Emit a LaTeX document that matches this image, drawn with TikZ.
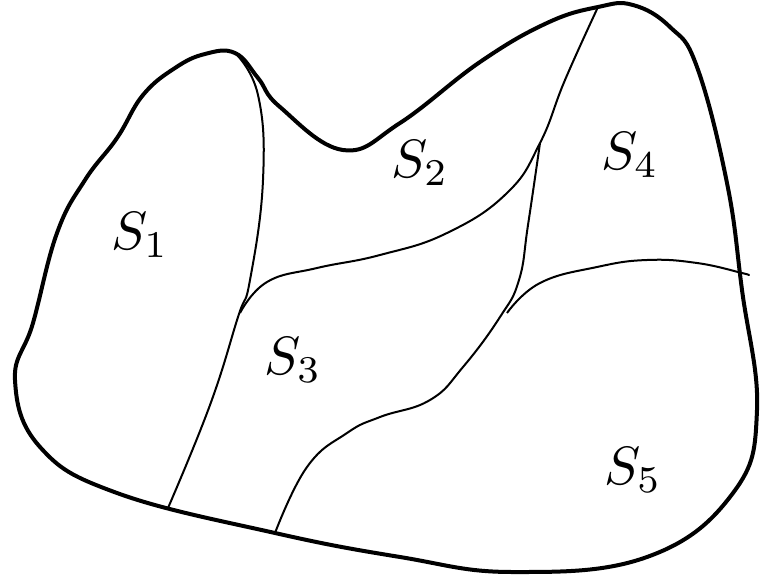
\documentclass[tikz,border=0pt]{standalone}
\usepackage{graphicx}
\usetikzlibrary{calc}
\tikzset{
    rim/.style={line width=4pt, line join=round},
    cut/.style={line width=2pt, line join=round},
    lbl/.style={inner sep=0pt}
}
\newcommand{\bigS}[1]{\scalebox{5.4}{$S_{#1}$}}
\begin{document}
\begin{tikzpicture}[x=1pt,y=-1pt]
            \useasboundingbox (0,0) rectangle (765,576);
            % junctions of the pieces
            \coordinate (peak) at (235,53);
            \coordinate (top) at (598,7);
            \coordinate (left) at (240,313);
            \coordinate (mid) at (540,143);
            \coordinate (low) at (507,313);
            \coordinate (right) at (742,273);
            \coordinate (foot1) at (168,508);
            \coordinate (foot2) at (275,533);
            % outer rim
            \draw[rim] plot[smooth cycle, tension=0.7] coordinates {
                (117,138) (143,95) (175,68) (205,54) (peak) (258,78) (280,107)
                (343,150) (400,123) (480,62) (547,23) (top) (633,5) (670,27)
                (697,67) (727,183) (742,290) (757,410) (733,493) (647,557)
                (513,572) (400,557) (foot2) (117,493) (40,447) (15,380)
                (33,323) (57,233) (85,180)};
            % inner cuts
            \draw[cut] plot[smooth, tension=0.75] coordinates {
                (peak) (258,95) (263,180) (250,280) (238,317) (210,405) (foot1)};
            \draw[cut] plot[smooth, tension=0.75] coordinates {
                (left) (267,282) (317,268) (380,255) (447,233) (507,193)
                (mid) (565,80) (top)};
            \draw[cut] plot[smooth, tension=0.75] coordinates {
                (mid) (528,225) (519,280) (500,317) (463,367) (430,400)
                (380,417) (347,433) (307,467) (foot2)};
            \draw[cut] plot[smooth, tension=0.75] coordinates {
                (low) (540,283) (597,267) (647,260) (697,263) (right) (748,275)};
            % labels
            \node[lbl] (s1) at (140,235) {\bigS{1}};
            \node[lbl] (s2) at (420,163) {\bigS{2}};
            \node[lbl] (s3) at (293,360) {\bigS{3}};
            \node[lbl] (s4) at (630,155) {\bigS{4}};
            \node[lbl] (s5) at (633,470) {\bigS{5}};
        \end{tikzpicture}
\end{document}
